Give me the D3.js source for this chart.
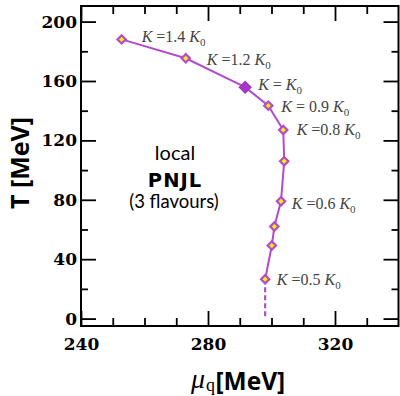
<!DOCTYPE html>
<html>
<head>
<meta charset="utf-8">
<script src="https://cdn.jsdelivr.net/npm/d3@7"></script>
<style>
  html, body { margin: 0; padding: 0; background: #fff; }
  svg { display: block; }
</style>
</head>
<body>
<svg id="chart" width="400" height="396"></svg>
<script>
// Quark chemical potential (MeV) and temperature (MeV) along the transition line
const muQ   = [252.8, 273.0, 291.7, 299.0, 303.7, 304.0, 303.0, 300.9, 300.1, 298.0];
const tempT = [188.0, 175.3, 155.8, 143.4, 127.0, 106.0, 79.0, 62.0, 49.2, 26.5];
// Coupling annotation for each point ("" = unlabelled point)
const kText = ["=1.4 ", "=1.2 ", "= ", "= 0.9 ", "=0.8 ", "", "=0.6 ", "", "", "=0.5 "];
// index of the reference coupling K = K0 (drawn as a solid marker)
const refIndex = 2;
// dashed continuation of the line down to T = 0
const tailMu = [298.0, 298.0];
const tailT  = [26.5, 0];

const xTicksMajor = [240, 280, 320];
const xTicksMinor = [250, 260, 270, 290, 300, 310, 330];
const yTicksMajor = [0, 40, 80, 120, 160, 200];
const yTicksMinor = [20, 60, 100, 140, 180];

const svg = d3.select("#chart");
const box = { left: 81, right: 398.5, top: 6, bottom: 326 };

const x = d3.scaleLinear().domain([240, 340]).range([box.left, box.right]);
const y = d3.scaleLinear().domain([-5, 210.5]).range([box.bottom, box.top]);

const purple = "#b24ccd";
const purpleDark = "#a338c4";
const yellow = "#fff000";
const tickFont = "'DejaVu Serif', serif";
const titleFont = "'Open Sans', sans-serif";

// ---- axes (ticks point inward on all four sides) ----
function styleAxis(g) {
  g.select(".domain").remove();
  g.selectAll(".tick line").attr("stroke", "#000").attr("stroke-width", 1.8);
  g.selectAll(".tick text")
    .attr("font-family", tickFont).attr("font-weight", "bold")
    .attr("font-size", 17).attr("fill", "#000");
}

// bottom
svg.append("g").attr("transform", `translate(0,${box.bottom})`)
  .call(d3.axisBottom(x).tickValues(xTicksMajor).tickSize(-15).tickPadding(12).tickFormat(d3.format("d")))
  .call(styleAxis);
svg.append("g").attr("transform", `translate(0,${box.bottom})`)
  .call(d3.axisBottom(x).tickValues(xTicksMinor).tickSize(-8).tickFormat(""))
  .call(styleAxis);
// top
svg.append("g").attr("transform", `translate(0,${box.top})`)
  .call(d3.axisTop(x).tickValues(xTicksMajor).tickSize(-15).tickFormat(""))
  .call(styleAxis);
svg.append("g").attr("transform", `translate(0,${box.top})`)
  .call(d3.axisTop(x).tickValues(xTicksMinor).tickSize(-8).tickFormat(""))
  .call(styleAxis);
// left
svg.append("g").attr("transform", `translate(${box.left},0)`)
  .call(d3.axisLeft(y).tickValues(yTicksMajor).tickSize(-15).tickPadding(4).tickFormat(d3.format("d")))
  .call(styleAxis);
svg.append("g").attr("transform", `translate(${box.left},0)`)
  .call(d3.axisLeft(y).tickValues(yTicksMinor).tickSize(-7).tickFormat(""))
  .call(styleAxis);
// right
svg.append("g").attr("transform", `translate(${box.right},0)`)
  .call(d3.axisRight(y).tickValues(yTicksMajor).tickSize(-15).tickFormat(""))
  .call(styleAxis);
svg.append("g").attr("transform", `translate(${box.right},0)`)
  .call(d3.axisRight(y).tickValues(yTicksMinor).tickSize(-7).tickFormat(""))
  .call(styleAxis);

// frame
svg.append("rect")
  .attr("x", box.left).attr("y", box.top)
  .attr("width", box.right - box.left).attr("height", box.bottom - box.top)
  .attr("fill", "none").attr("stroke", "#000").attr("stroke-width", 2);

// ---- axis titles ----
svg.append("text")
  .attr("transform", "translate(29,163) rotate(-90)")
  .attr("text-anchor", "middle")
  .attr("font-family", titleFont).attr("font-weight", "bold")
  .attr("font-size", 25).attr("fill", "#000")
  .text("T [MeV]");

const xTitle = svg.append("g").attr("fill", "#000");
xTitle.append("text").attr("x", 191).attr("y", 387.5)
  .attr("font-family", "'Liberation Serif', serif").attr("font-style", "italic")
  .attr("font-size", 28).text("μ");
xTitle.append("text").attr("x", 206).attr("y", 391)
  .attr("font-family", "'Liberation Serif', serif")
  .attr("font-size", 18).text("q");
xTitle.append("text").attr("x", 215.5).attr("y", 389.5)
  .attr("font-family", titleFont).attr("font-weight", "bold")
  .attr("font-size", 24.5).text("[MeV]");

// ---- model annotation ----
const note = svg.append("g").attr("fill", "#000").attr("text-anchor", "middle");
note.append("text").attr("x", 175).attr("y", 160)
  .attr("font-family", "Lato, sans-serif").attr("font-size", 20).text("local");
note.append("text").attr("x", 175).attr("y", 187)
  .attr("font-family", "'DejaVu Sans', sans-serif").attr("font-weight", "bold")
  .attr("font-size", 19.5).attr("letter-spacing", 1).text("PNJL");
note.append("text").attr("x", 174).attr("y", 208)
  .attr("font-family", "Lato, sans-serif").attr("font-size", 18.5).text("(3 flavours)");

// ---- transition line ----
const pts = muQ.map((m, i) => ({ mu: m, T: tempT[i], k: kText[i] }));
const line = d3.line().x(d => x(d.mu)).y(d => y(d.T));

svg.append("path").datum(pts)
  .attr("d", line).attr("fill", "none")
  .attr("stroke", purple).attr("stroke-width", 2);

svg.append("path").datum(tailMu.map((m, i) => ({ mu: m, T: tailT[i] })))
  .attr("d", line).attr("fill", "none")
  .attr("stroke", purple).attr("stroke-width", 2.2)
  .attr("stroke-dasharray", "5,3");

// markers
const diamond = d3.symbol().type(d3.symbolDiamond2);
svg.append("g").selectAll("path").data(pts).join("path")
  .attr("transform", d => `translate(${x(d.mu)},${y(d.T)})`)
  .attr("d", (d, i) => diamond.size(i === refIndex ? 70 : 44)())
  .attr("fill", (d, i) => i === refIndex ? purpleDark : yellow)
  .attr("stroke", (d, i) => i === refIndex ? purpleDark : purple)
  .attr("stroke-width", 2.2);

// coupling labels, placed beside their markers
const labelNudge = [[20, 2.5], [21, 6.5], [13, 2.7], [13, 6], [13.4, 5], [0, 0], [10.7, 7.3], [0, 0], [0, 0], [11.7, 6]];
const labels = svg.append("g")
  .attr("font-family", "'Liberation Serif', serif").attr("font-size", 16).attr("fill", "#444");
pts.forEach((d, i) => {
  if (!d.k) return;
  const t = labels.append("text")
    .attr("x", x(d.mu) + labelNudge[i][0])
    .attr("y", y(d.T) + labelNudge[i][1]);
  t.append("tspan").attr("font-style", "italic").text("K");
  t.append("tspan").text(" " + d.k);
  t.append("tspan").attr("font-style", "italic").text("K");
  t.append("tspan").attr("font-size", 11).attr("dy", 4).text("0");
});
</script>
</body>
</html>
